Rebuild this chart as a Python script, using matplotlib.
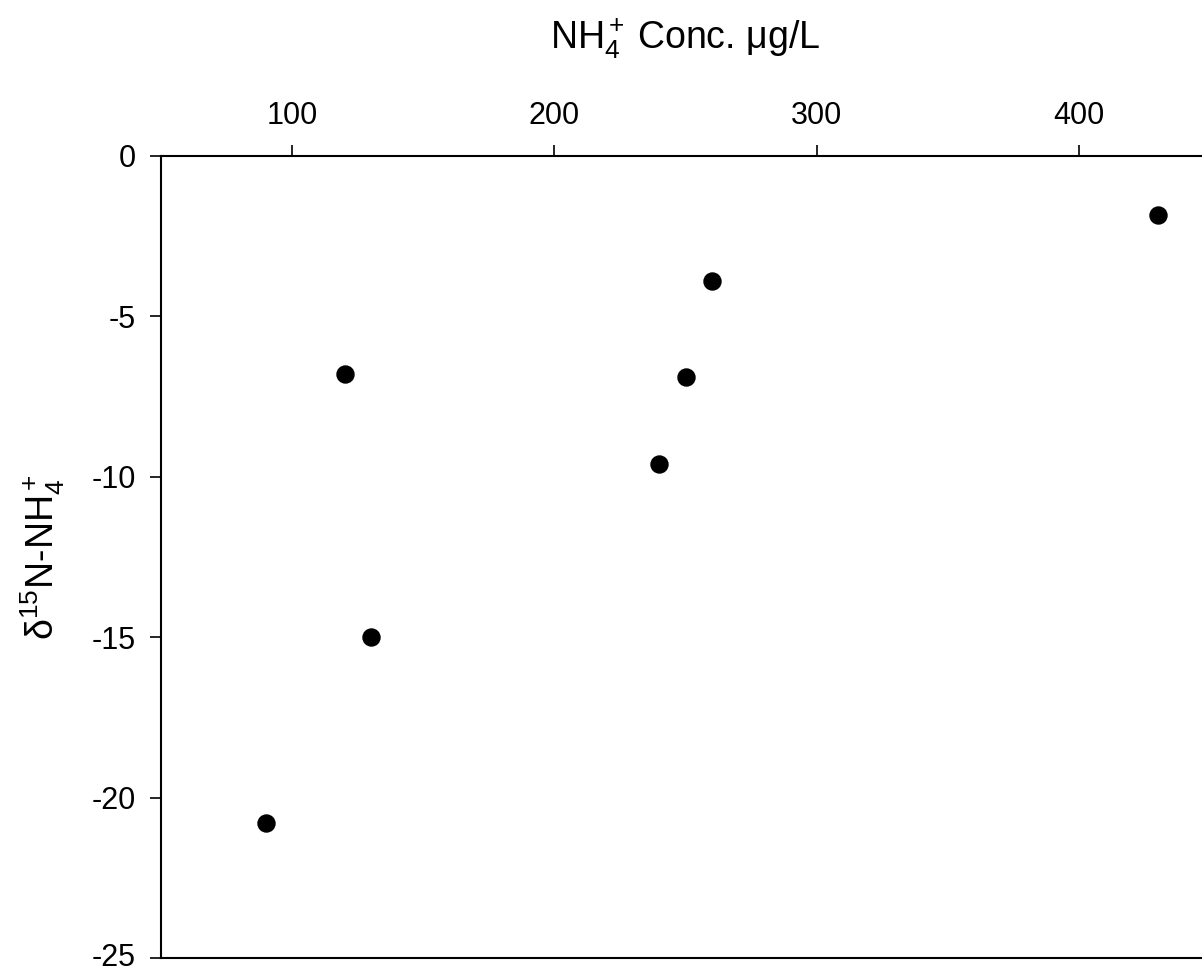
import matplotlib
matplotlib.use("Agg")
import matplotlib.pyplot as plt
import matplotlib.transforms as mtransforms

plt.rcParams['font.family'] = ['Liberation Sans', 'DejaVu Sans']
plt.rcParams['mathtext.fontset'] = 'custom'
plt.rcParams['mathtext.rm'] = 'Liberation Sans'
plt.rcParams['mathtext.it'] = 'Liberation Sans:italic'
plt.rcParams['mathtext.default'] = 'regular'
plt.rcParams['axes.unicode_minus'] = False

# Data
nh4_conc = [90, 120, 130, 240, 250, 260, 430]
d15n = [-20.8, -6.8, -15.0, -9.6, -6.9, -3.9, -1.85]
x_ticks = [100, 200, 300, 400]
y_ticks = [0, -5, -10, -15, -20, -25]

fig = plt.figure(figsize=(12.02, 9.74), dpi=100)
ax = fig.add_axes([161/1202, 16/974, (1210-161)/1202, (958-156)/974])

ax.scatter(nh4_conc, d15n, s=150, color='black', zorder=3, clip_on=False)

ax.set_xlim(50, 450)
ax.set_ylim(-25, 0)
ax.xaxis.tick_top()
ax.xaxis.set_label_position('top')
ax.set_xticks(x_ticks)
ax.set_yticks(y_ticks)
ax.tick_params(axis='both', direction='out', length=8, width=1.2, labelsize=22, pad=10)
ax.tick_params(axis='x', bottom=False, top=True)
ax.spines['right'].set_visible(False)
for s in ['left', 'top', 'bottom']:
    ax.spines[s].set_linewidth(1.5)

ax.set_xlabel(r'NH$_4^+$' + '\u2009' + r'Conc. $\mu$g/L', fontsize=27, labelpad=38)
ax.set_ylabel(r'$\delta^{15}$N-NH$_4^+$', fontsize=27, labelpad=18)

# nudge the bottom-most y tick label up slightly so it stays inside the figure
fig.canvas.draw()
for lab in ax.get_yticklabels():
    if lab.get_text() == '-25':
        lab.set_transform(lab.get_transform() +
                          mtransforms.ScaledTranslation(0, 4/100, fig.dpi_scale_trans))

fig.savefig('out.png', dpi=100)
